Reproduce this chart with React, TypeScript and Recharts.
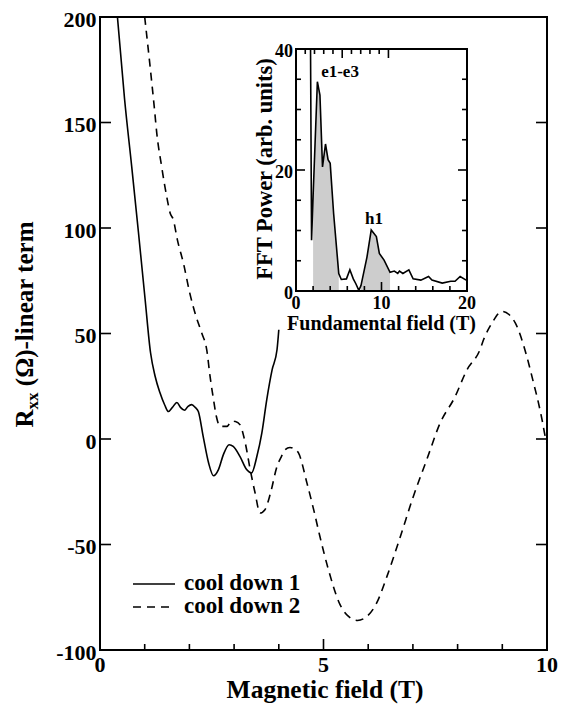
import React from "react";
import { LineChart, Line, XAxis, YAxis, Legend, ComposedChart, Area, ReferenceDot } from "recharts";

const FONT = "Liberation Serif, Tinos, Nimbus Roman, DejaVu Serif, serif";

// main panel: R_xx linear term vs magnetic field
const cd1Field = [0.39, 0.55, 0.71, 0.86, 1.01, 1.13, 1.23, 1.34, 1.45, 1.53, 1.62, 1.72, 1.8, 1.89, 1.97, 2.05, 2.13, 2.2, 2.31, 2.43, 2.54, 2.65, 2.76, 2.89, 2.98, 3.13, 3.28, 3.39, 3.51, 3.62, 3.73, 3.85, 3.96, 4.0];
const cd1Rxx = [200, 161, 129, 98, 66, 41, 30, 22, 16, 13, 15, 17.3, 15, 13.6, 15.5, 16.3, 15, 13, 1, -11.4, -17.4, -14.5, -7.4, -2.7, -3.5, -8.2, -14.5, -16.1, -8.2, 2.8, 18.6, 32.8, 42.3, 51.8];

const cd2Field = [1.0, 1.22, 1.27, 1.38, 1.5, 1.57, 1.64, 1.73, 1.87, 2.01, 2.15, 2.28, 2.39, 2.46, 2.54, 2.6, 2.69, 2.84, 2.95, 3.03, 3.13, 3.25, 3.36, 3.47, 3.58, 3.69, 3.81, 3.96, 4.06, 4.14, 4.25, 4.35, 4.44, 4.63, 4.78, 4.92, 5.11, 5.37, 5.56, 5.76, 5.97, 6.19, 6.42, 6.72, 7.01, 7.31, 7.61, 7.93, 8.21, 8.5, 8.58, 8.77, 8.99, 9.15, 9.29, 9.55, 9.7, 9.81, 9.9, 9.96, 10.0];
const cd2Rxx = [200, 156, 145, 129, 114, 107, 104, 94.5, 83, 69, 58, 50, 42, 30, 18.6, 11, 6, 6, 8.5, 8.3, 6.8, -1.9, -14.5, -25.6, -35.1, -33.5, -26, -13, -8.2, -5.1, -4, -4.8, -6.6, -20.9, -33.5, -46.2, -61.9, -78.5, -84.1, -86, -84.1, -77.7, -65.1, -46.2, -27.2, -9.8, 7.6, 19.5, 32.8, 42.3, 47, 55, 60.5, 59, 55, 39, 26.5, 17, 8, 1.2, -2];

const fieldTicks = [0, 1, 2, 3, 4, 5, 6, 7, 8, 9, 10];
const fieldMajor = [0, 5, 10];
const rxxTicks = [-100, -50, 0, 50, 100, 150, 200];

const seriesNames = ["cool down 1", "cool down 2"];

// inset: FFT spectrum
const fftFreq = [1.7, 1.82, 2.0, 2.5, 2.8, 3.1, 3.45, 3.75, 4.0, 4.4, 5.0, 5.3, 5.9, 6.3, 6.7, 7.0, 7.35, 7.6, 8.3, 8.8, 9.4, 9.75, 10.3, 11.0, 11.5, 11.9, 12.1, 12.5, 13.2, 13.7, 14.6, 15.5, 15.9, 17.1, 18.1, 18.6, 19.2, 19.9];
const fftPower = [40, 8.4, 15.7, 34.6, 32.4, 20.5, 24.3, 21.7, 21.1, 12.8, 2.9, 1.9, 2.0, 3.5, 2.0, 1.2, 0.1, 0.9, 5.6, 10.1, 9.0, 6.2, 5.1, 3.1, 3.3, 2.9, 3.3, 2.9, 3.5, 2.0, 1.8, 2.4, 1.8, 1.3, 1.6, 1.6, 2.4, 1.8];
const shadeBands = [[2, 5], [7.6, 11]];
const peakLabels = [
  { f: 5.15, p: 35.4, text: "e1-e3" },
  { f: 9.12, p: 11.0, text: "h1" },
];

const freqTicks = [0, 2, 4, 6, 8, 10, 12, 14, 16, 18, 20];
const freqMajor = [0, 10, 20];
const powerTicks = [0, 5, 10, 15, 20, 25, 30, 35, 40];
const powerMajor = [0, 20, 40];

const cd1 = cd1Field.map((x, i) => ({ x, y: cd1Rxx[i] }));
const cd2 = cd2Field.map((x, i) => ({ x, y: cd2Rxx[i] }));
const fftTable = fftFreq.map((f, i) => ({
  f,
  p: fftPower[i],
  shade: shadeBands.some(([a, b]) => f >= a && f <= b) ? fftPower[i] : null,
}));

type Side = "bottom" | "top" | "left" | "right";

function makeTick(side: Side, majors: number[], big: number, small: number, fontSize: number, labels: boolean) {
  return (props: any) => {
    const { x, y, payload } = props;
    const v = payload.value;
    const major = majors.includes(v);
    const len = major ? big : small;
    let line;
    if (side === "bottom") line = <line x1={x} x2={x} y1={y} y2={y - len} />;
    else if (side === "top") line = <line x1={x} x2={x} y1={y} y2={y + len} />;
    else if (side === "left") line = <line x1={x} x2={x + len} y1={y} y2={y} />;
    else line = <line x1={x} x2={x - len} y1={y} y2={y} />;
    let text = null;
    if (labels && major) {
      if (side === "bottom") {
        text = (
          <text x={x} y={y + fontSize * 0.98} textAnchor="middle">
            {v}
          </text>
        );
      } else if (side === "left") {
        text = (
          <text x={x - fontSize * 0.16} y={y + fontSize * 0.45} textAnchor="end">
            {v}
          </text>
        );
      }
    }
    return (
      <g stroke="#000" strokeWidth={1.6}>
        {line}
        {text && (
          <g stroke="none" fill="#000" style={{ fontFamily: FONT }} fontWeight="bold" fontSize={fontSize}>
            {text}
          </g>
        )}
      </g>
    );
  };
}

function RxxTitle(props: any) {
  const { viewBox } = props;
  const cx = viewBox.x + viewBox.width / 2 - 17;
  const cy = viewBox.y + viewBox.height / 2 - 9;
  return (
    <text
      transform={`translate(${cx},${cy}) rotate(-90)`}
      textAnchor="middle"
      style={{ fontFamily: FONT }}
      fontWeight="bold"
      fontSize={25}
      fill="#000"
    >
      R<tspan fontSize={17} dy={5}>xx</tspan>
      <tspan dy={-5}> (Ω)-linear term</tspan>
    </text>
  );
}

function AxisTitle(props: any) {
  const { viewBox, text, shiftX = 0, shiftY = 0, rot = 0, size = 24 } = props;
  const cx = viewBox.x + viewBox.width / 2 + shiftX;
  const cy = viewBox.y + viewBox.height / 2 + shiftY;
  return (
    <text
      transform={`translate(${cx},${cy}) rotate(${rot})`}
      textAnchor="middle"
      style={{ fontFamily: FONT }}
      fontWeight="bold"
      fontSize={size}
      fill="#000"
    >
      {text}
    </text>
  );
}

function PeakLabel(props: any) {
  const { viewBox, text } = props;
  const cx = viewBox.x + viewBox.width / 2;
  const cy = viewBox.y + viewBox.height / 2;
  return (
    <text x={cx} y={cy} textAnchor="middle" style={{ fontFamily: FONT }} fontWeight="bold" fontSize={17} fill="#000">
      {text}
    </text>
  );
}

function CoolDownLegend() {
  return (
    <svg width={300} height={60}>
      {seriesNames.map((name, i) => (
        <g key={name}>
          <line
            x1={3}
            x2={45}
            y1={19 + 23 * i}
            y2={19 + 23 * i}
            stroke="#000"
            strokeWidth={1.6}
            strokeDasharray={i === 1 ? "8 6" : undefined}
          />
          <text x={54} y={25 + 23 * i} style={{ fontFamily: FONT }} fontWeight="bold" fontSize={23} fill="#000">
            {name}
          </text>
        </g>
      ))}
    </svg>
  );
}

const axisStroke = { stroke: "#000", strokeWidth: 2, strokeLinecap: "square" as const };

function FftInset() {
  return (
    <div style={{ position: "absolute", left: 245, top: 35 }}>
      <ComposedChart width={240} height={305} data={fftTable} margin={{ top: 0, right: 0, bottom: 0, left: 0 }}>
        <XAxis
          dataKey="f"
          type="number"
          domain={[0, 20]}
          ticks={freqTicks}
          allowDataOverflow
          height={49}
          tickSize={0}
          tickMargin={0}
          axisLine={axisStroke}
          tick={makeTick("bottom", freqMajor, 9, 5, 18, true)}
          interval={0}
          label={<AxisTitle text="Fundamental field (T)" shiftY={14.5} size={20} />}
        />
        <XAxis
          xAxisId="top"
          orientation="top"
          type="number"
          domain={[0, 20]}
          ticks={freqTicks}
          allowDataOverflow
          height={14}
          tickSize={0}
          tickMargin={0}
          axisLine={axisStroke}
          tick={makeTick("top", freqMajor, 9, 5, 18, false)}
          interval={0}
        />
        <YAxis
          type="number"
          domain={[0, 40]}
          ticks={powerTicks}
          allowDataOverflow
          width={51}
          tickSize={0}
          tickMargin={0}
          axisLine={axisStroke}
          tick={makeTick("left", powerMajor, 9, 5, 18, true)}
          interval={0}
          label={<AxisTitle text="FFT Power (arb. units)" shiftX={1.5} shiftY={-1} rot={-90} size={22.5} />}
        />
        <YAxis
          yAxisId="right"
          orientation="right"
          type="number"
          domain={[0, 40]}
          ticks={powerTicks}
          allowDataOverflow
          width={18}
          tickSize={0}
          tickMargin={0}
          axisLine={axisStroke}
          tick={makeTick("right", powerMajor, 9, 5, 18, false)}
          interval={0}
        />
        <Area
          dataKey="shade"
          type="linear"
          stroke="none"
          fill="#cdcdcd"
          fillOpacity={1}
          connectNulls={false}
          dot={false}
          activeDot={false}
          isAnimationActive={false}
        />
        <Line
          dataKey="p"
          type="linear"
          stroke="#000"
          strokeWidth={1.6}
          dot={false}
          activeDot={false}
          isAnimationActive={false}
        />
        {peakLabels.map((d) => (
          <ReferenceDot key={d.text} x={d.f} y={d.p} r={0} fill="none" stroke="none" label={<PeakLabel text={d.text} />} />
        ))}
      </ComposedChart>
    </div>
  );
}

export default function App() {
  return (
    <div style={{ position: "absolute", left: 0, top: 0, width: 570, height: 704, background: "#fff" }}>
      <LineChart width={570} height={704} margin={{ top: 0, right: 0, bottom: 0, left: 0 }}>
        <XAxis
          dataKey="x"
          type="number"
          domain={[0, 10]}
          ticks={fieldTicks}
          allowDataOverflow
          height={54}
          tickSize={0}
          tickMargin={0}
          axisLine={axisStroke}
          tick={makeTick("bottom", fieldMajor, 11, 6, 22, true)}
          interval={0}
          label={<AxisTitle text="Magnetic field (T)" shiftX={1.5} shiftY={20.5} size={25.5} />}
        />
        <XAxis
          xAxisId="top"
          orientation="top"
          type="number"
          domain={[0, 10]}
          ticks={fieldTicks}
          allowDataOverflow
          height={17}
          tickSize={0}
          tickMargin={0}
          axisLine={axisStroke}
          tick={makeTick("top", fieldMajor, 11, 6, 22, false)}
          interval={0}
        />
        <YAxis
          type="number"
          domain={[-100, 200]}
          ticks={rxxTicks}
          allowDataOverflow
          width={100}
          tickSize={0}
          tickMargin={0}
          axisLine={axisStroke}
          tick={makeTick("left", rxxTicks, 11, 11, 22, true)}
          interval={0}
          label={<RxxTitle />}
        />
        <YAxis
          yAxisId="right"
          orientation="right"
          type="number"
          domain={[-100, 200]}
          ticks={rxxTicks}
          allowDataOverflow
          width={23}
          tickSize={0}
          tickMargin={0}
          axisLine={axisStroke}
          tick={makeTick("right", rxxTicks, 11, 11, 22, false)}
          interval={0}
        />
        <Line
          data={cd1}
          dataKey="y"
          name={seriesNames[0]}
          type="monotone"
          stroke="#000"
          strokeWidth={1.6}
          dot={false}
          activeDot={false}
          isAnimationActive={false}
        />
        <Line
          data={cd2}
          dataKey="y"
          name={seriesNames[1]}
          type="monotone"
          stroke="#000"
          strokeWidth={1.6}
          strokeDasharray="8 6"
          dot={false}
          activeDot={false}
          isAnimationActive={false}
        />
        <Legend
          layout="horizontal"
          verticalAlign="middle"
          align="center"
          content={() => <CoolDownLegend />}
          wrapperStyle={{ left: 130, top: 565, width: 300, height: 60 }}
        />
      </LineChart>
      <FftInset />
    </div>
  );
}
